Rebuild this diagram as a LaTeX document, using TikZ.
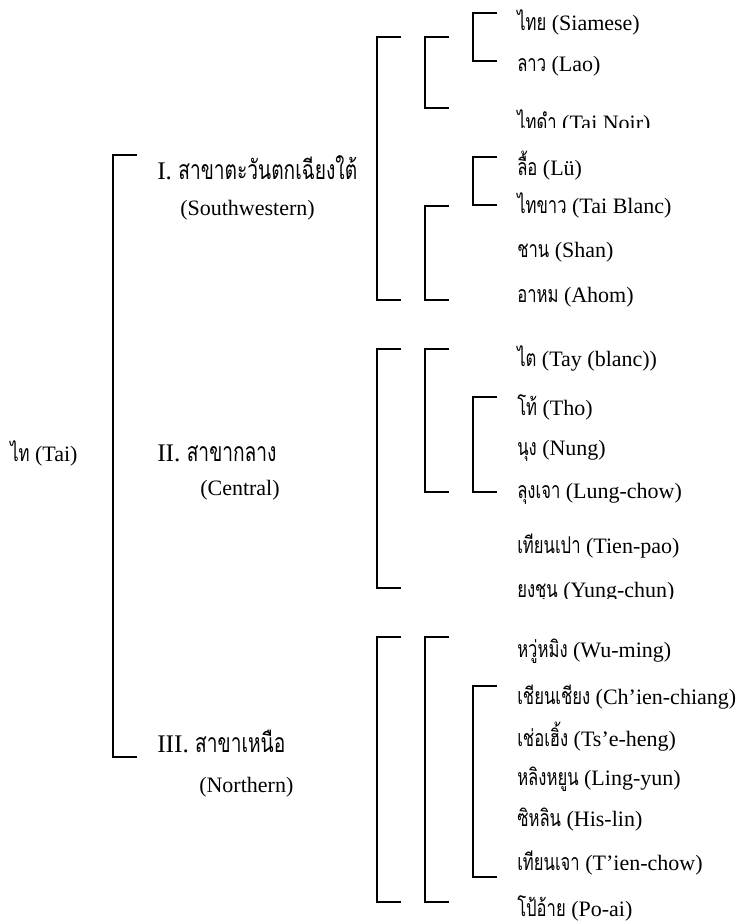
\documentclass[tikz,border=0pt]{standalone}
\usepackage{fontspec}
\setmainfont{Liberation Serif}
\newfontfamily\thaifnt[Script=Thai,Scale=1.05,FakeStretch=0.72]{Loma}
\newcommand{\thx}[1]{{\thaifnt #1}}
\newcommand{\brk}[4]{%
  \coordinate (#1t) at (#2+24,#3);
  \coordinate (#1b) at (#2+24,#4);
  \draw[br] (#1t) -- ++(-24,0) |- (#1b);}
\begin{document}
\begin{tikzpicture}[x=0.75pt,y=-0.75pt,
  br/.style={line width=1.7pt},
  leaf/.style={anchor=west,inner sep=0pt,font=\fontsize{16.5}{18}\selectfont},
  head/.style={anchor=west,inner sep=0pt,font=\fontsize{19}{22}\selectfont},
  sub/.style={anchor=west,inner sep=0pt,font=\fontsize{16.5}{18}\selectfont}]
\useasboundingbox (0,0) rectangle (741,921);
% brackets
\brk{main}{113}{155}{757}
\brk{sw}{377}{37}{300}
\brk{swa}{425}{37}{108}
\brk{swaa}{473}{13}{61}
\brk{swb}{425}{206}{300}
\brk{swbb}{473}{157}{205}
\brk{ce}{377}{349}{588}
\brk{cea}{425}{349}{492}
\brk{ceaa}{473}{397}{492}
\brk{no}{377}{637}{902}
\brk{noa}{425}{637}{902}
\brk{noaa}{473}{686}{877}
% root and branches
\node[leaf] (tai) at (10,453) {\thx{ไท} (Tai)};
\node[head] (h1) at (157,168) {I. \thx{สาขาตะวันตกเฉียงใต้}};
\node[sub] (s1) at (180,210) {(Southwestern)};
\node[head] (h2) at (157,453) {II. \thx{สาขากลาง}};
\node[sub] (s2) at (200,490) {(Central)};
\node[head] (h3) at (157,741) {III. \thx{สาขาเหนือ}};
\node[sub] (s3) at (199,787) {(Northern)};
% leaves
\node[leaf] (l1) at (517,22) {\thx{ไทย} (Siamese)};
\node[leaf] (l2) at (517,66) {\thx{ลาว} (Lao)};
\begin{scope}
\clip (500,80) rectangle (741,127);
\node[leaf] (l3) at (517,122) {\thx{ไทดำ} (Tai Noir)};
\end{scope}
\node[leaf] (l4) at (517,166) {\thx{ลื้อ} (Lü)};
\node[leaf] (l5) at (517,205) {\thx{ไทขาว} (Tai Blanc)};
\node[leaf] (l6) at (517,252) {\thx{ชาน} (Shan)};
\node[leaf] (l7) at (517,297) {\thx{อาหม} (Ahom)};
\node[leaf] (l8) at (517,358) {\thx{ไต} (Tay (blanc))};
\node[leaf] (l9) at (517,407) {\thx{โท้} (Tho)};
\node[leaf] (l10) at (517,451) {\thx{นุง} (Nung)};
\node[leaf] (l11) at (517,494) {\thx{ลุงเจา} (Lung-chow)};
\node[leaf] (l12) at (517,546) {\thx{เทียนเปา} (Tien-pao)};
\begin{scope}
\clip (500,560) rectangle (741,598);
\node[leaf] (l13) at (517,593) {\thx{ยงชุน} (Yung-chun)};
\end{scope}
\node[leaf] (l14) at (517,651) {\thx{หวู่หมิง} (Wu-ming)};
\node[leaf] (l15) at (517,697) {\thx{เชียนเชียง} (Ch’ien-chiang)};
\node[leaf] (l16) at (517,737) {\thx{เช่อเฮิ้ง} (Ts’e-heng)};
\node[leaf] (l17) at (517,779) {\thx{หลิงหยูน} (Ling-yun)};
\node[leaf] (l18) at (517,820) {\thx{ซิหลิน} (His-lin)};
\node[leaf] (l19) at (517,863) {\thx{เทียนเจา} (T’ien-chow)};
\node[leaf] (l20) at (517,908) {\thx{โป้อ้าย} (Po-ai)};
\end{tikzpicture}
\end{document}
